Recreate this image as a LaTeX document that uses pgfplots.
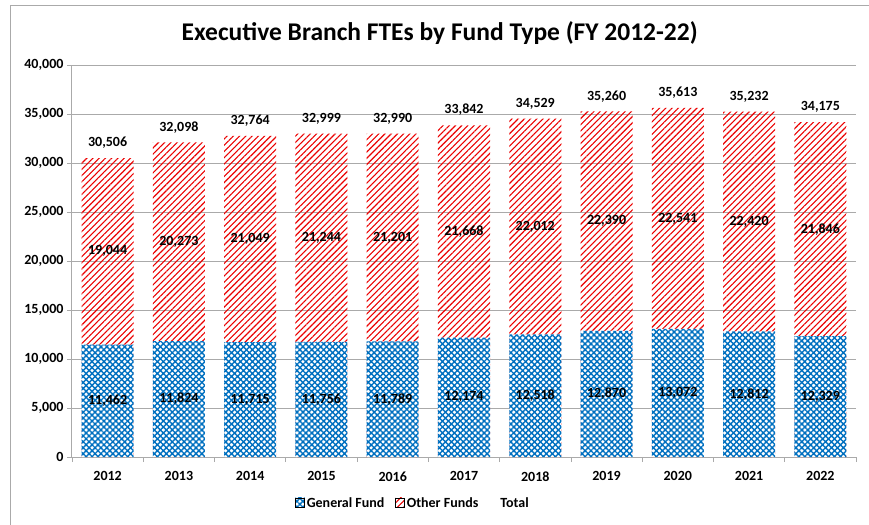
\documentclass[border=0pt]{standalone}
\usepackage{pgfplots}
\pgfplotsset{compat=1.18}
\usepackage{pgfplotstable}
\usepackage{fontspec}
\setmainfont{Carlito}
\usetikzlibrary{patterns.meta}

\definecolor{gfblue}{RGB}{0,112,192}
\definecolor{ofred}{RGB}{235,0,0}
\definecolor{axgray}{RGB}{170,170,170}

% FY, General Fund, Other Funds, Total
\pgfplotstableread{
x year gf of total
0 2012 11462 19044 30506
1 2013 11824 20273 32098
2 2014 11715 21049 32764
3 2015 11756 21244 32999
4 2016 11789 21201 32990
5 2017 12174 21668 33842
6 2018 12518 22012 34529
7 2019 12870 22390 35260
8 2020 13072 22541 35613
9 2021 12812 22420 35232
10 2022 12329 21846 34175
}\fte

\tikzset{
  gfpat/.style={pattern={Hatch[angle=45,distance=4.2bp,line width=1.4bp]}, pattern color=gfblue},
  ofpat/.style={pattern={Lines[angle=45,distance=4.4bp,line width=1.1bp]}, pattern color=ofred},
}

\begin{document}
\begin{tikzpicture}
  \useasboundingbox (-72bp,-68bp) rectangle (797bp,457bp);
  \draw[axgray, line width=0.8bp] (-62bp,-68bp) -- (-62bp,452bp) -- (797bp,452bp);
  \begin{axis}[
      at={(0,0)}, anchor=south west,
      scale only axis,
      width=784bp, height=392bp,
      xmin=-0.5, xmax=10.5,
      ymin=0, ymax=40000,
      ytick distance=5000,
      scaled y ticks=false,
      /pgf/number format/1000 sep={,},
      /pgf/number format/assume math mode=true,
      xtick={0,...,10},
      xticklabels={2012,2013,2014,2015,2016,2017,2018,2019,2020,2021,2022},
      minor xtick={-0.5,0.5,...,10.5},
      major x tick style={draw=none},
      tick align=outside,
      major tick length=5bp,
      minor tick length=5bp,
      tick style={axgray, line width=0.8bp},
      axis x line*=bottom,
      axis y line*=left,
      axis line style={-, axgray, line width=1bp},
      ymajorgrids,
      grid style={axgray, line width=0.8bp},
      ticklabel style={font=\bfseries\fontsize{14bp}{16bp}\selectfont},
      xticklabel style={yshift=-6bp},
      title={Executive Branch FTEs by Fund Type (FY 2012-22)},
      title style={at={(0.469,1.066)}, anchor=center, font=\bfseries\fontsize{25.5bp}{30bp}\selectfont},
      legend style={at={(0.435,-0.117)}, anchor=center, draw=none,
        font=\bfseries\fontsize{14bp}{16bp}\selectfont,
        /tikz/every even column/.append style={column sep=9bp}},
      legend columns=-1,
      legend image code/.code={\path[#1] (0bp,-4bp) rectangle (9bp,5bp);},
      every node near coord/.append style={font=\bfseries\fontsize{14bp}{16bp}\selectfont, text=black},
    ]
    \addlegendimage{gfpat}
    \addlegendentry{General Fund}
    \addlegendimage{ofpat}
    \addlegendentry{Other Funds}
    \addlegendimage{draw=none}
    \addlegendentry{Total}

    % total height drawn in red, general fund drawn over it
    \addplot[ybar, bar width=0.73, bar shift=0pt, draw=none, ofpat, forget plot]
      table[x=x, y=total] {\fte};
    \addplot[ybar, bar width=0.73, bar shift=0pt, draw=none, fill=white, forget plot]
      table[x=x, y=gf] {\fte};
    \addplot[ybar, bar width=0.73, bar shift=0pt, draw=none, gfpat, forget plot]
      table[x=x, y=gf] {\fte};

    % labels
    \addplot[only marks, mark=*, mark size=0pt, mark options={draw=none,fill=none},
      nodes near coords, point meta=explicit, nodes near coords align={center}, forget plot]
      table[x=x, y expr=\thisrow{gf}/2, meta=gf] {\fte};
    \addplot[only marks, mark=*, mark size=0pt, mark options={draw=none,fill=none},
      nodes near coords, point meta=explicit, nodes near coords align={center}, forget plot]
      table[x=x, y expr=\thisrow{gf}+\thisrow{of}/2, meta=of] {\fte};
    \addplot[only marks, mark=*, mark size=0pt, mark options={draw=none,fill=none},
      nodes near coords, point meta=explicit, nodes near coords align={anchor=south},
      nodes near coords style={yshift=6bp}, forget plot]
      table[x=x, y=total, meta=total] {\fte};
  \end{axis}
\end{tikzpicture}
\end{document}
